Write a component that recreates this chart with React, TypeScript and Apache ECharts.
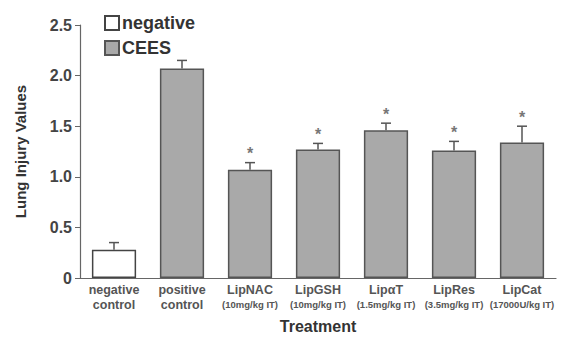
import React, { useEffect, useRef } from "react";
import * as echarts from "echarts";

const categories = ["negative", "positive", "LipNAC", "LipGSH", "LipαT", "LipRes", "LipCat"];
const subLabels = ["control", "control", "(10mg/kg IT)", "(10mg/kg IT)", "(1.5mg/kg IT)", "(3.5mg/kg IT)", "(17000U/kg IT)"];
const negativeValues = [0.28, null, null, null, null, null, null];
const ceesValues = [null, 2.07, 1.07, 1.27, 1.46, 1.26, 1.34];
const errorTops = [0.35, 2.15, 1.14, 1.33, 1.53, 1.35, 1.5];
const significant = [false, false, true, true, true, true, true];

export default function App() {
  const ref = useRef<HTMLDivElement>(null);
  useEffect(() => {
    document.body.style.margin = "0";
    const chart = echarts.init(ref.current!, null, { renderer: "svg" });
    const values = categories.map((_, i) => (negativeValues[i] ?? ceesValues[i]) as number);
    const font = "'Liberation Sans', Arial, sans-serif";
    chart.setOption({
      animation: false,
      textStyle: { fontFamily: font },
      grid: { left: 80, right: 6, top: 25, bottom: 64 },
      legend: {
        orient: "vertical",
        left: 99,
        top: 9,
        itemWidth: 14,
        itemHeight: 14,
        itemGap: 7,
        icon: "rect",
        textStyle: { fontFamily: font, fontWeight: "bold", fontSize: 18, color: "#333", padding: [0, 0, 0, -2] },
        data: ["negative", "CEES"],
      },
      xAxis: {
        type: "category",
        data: categories,
        name: "Treatment",
        nameLocation: "middle",
        nameGap: 40,
        nameTextStyle: { fontFamily: font, fontWeight: "bold", fontSize: 16, color: "#333" },
        axisLine: { lineStyle: { color: "#666", width: 1.2 } },
        axisTick: { show: false },
        axisLabel: {
          interval: 0,
          margin: 4,
          formatter: (v: string, i: number) =>
            i < 2 ? `{a|${v}}\n{a|${subLabels[i]}}` : `{b|${v}}\n{c|${subLabels[i]}}`,
          rich: {
            a: { fontFamily: font, fontWeight: "bold", fontSize: 12.5, color: "#555", lineHeight: 15 },
            b: { fontFamily: font, fontWeight: "bold", fontSize: 12.5, color: "#555", lineHeight: 15 },
            c: { fontFamily: font, fontWeight: "bold", fontSize: 9.5, color: "#555", lineHeight: 14 },
          },
        },
      },
      yAxis: {
        type: "value",
        min: 0,
        max: 2.5,
        interval: 0.5,
        name: "Lung Injury Values",
        nameLocation: "middle",
        nameGap: 52,
        nameTextStyle: { fontFamily: font, fontWeight: "bold", fontSize: 15, color: "#333" },
        axisLine: { show: true, lineStyle: { color: "#666", width: 1.2 } },
        axisTick: { show: true, length: 5, lineStyle: { color: "#666" } },
        splitLine: { show: false },
        axisLabel: {
          fontFamily: font,
          fontWeight: "bold",
          fontSize: 16,
          color: "#444",
          margin: 8,
          formatter: (v: number) => (v === 0 ? "0" : v.toFixed(1)),
        },
      },
      series: [
        {
          name: "negative",
          type: "bar",
          data: negativeValues,
          barWidth: "65%",
          barGap: "-100%",
          itemStyle: { color: "#ffffff", borderColor: "#444", borderWidth: 1.5 },
        },
        {
          name: "CEES",
          type: "bar",
          data: ceesValues,
          barWidth: "65%",
          barGap: "-100%",
          itemStyle: { color: "#a9a9a9", borderColor: "#555", borderWidth: 1.5 },
        },
        {
          name: "err",
          type: "custom",
          data: categories.map((_, i) => [i, values[i], errorTops[i], significant[i] ? 1 : 0]),
          renderItem: (params: any, api: any) => {
            const i = api.value(0);
            const base = api.coord([i, api.value(1)]);
            const top = api.coord([i, api.value(2)]);
            const children: any[] = [
              { type: "line", shape: { x1: base[0], y1: base[1], x2: top[0], y2: top[1] }, style: { stroke: "#555", lineWidth: 1.5 } },
              { type: "line", shape: { x1: top[0] - 5, y1: top[1], x2: top[0] + 5, y2: top[1] }, style: { stroke: "#555", lineWidth: 1.5 } },
            ];
            if (api.value(3)) {
              children.push({
                type: "text",
                style: {
                  text: "*",
                  x: top[0],
                  y: top[1] - 1,
                  align: "center",
                  verticalAlign: "bottom",
                  fontSize: 16,
                  fontWeight: "bold",
                  fill: "#777",
                  fontFamily: font,
                },
              });
            }
            return { type: "group", children };
          },
          z: 5,
        },
      ],
    });
    return () => chart.dispose();
  }, []);
  return <div ref={ref} style={{ width: 562, height: 342 }} />;
}
